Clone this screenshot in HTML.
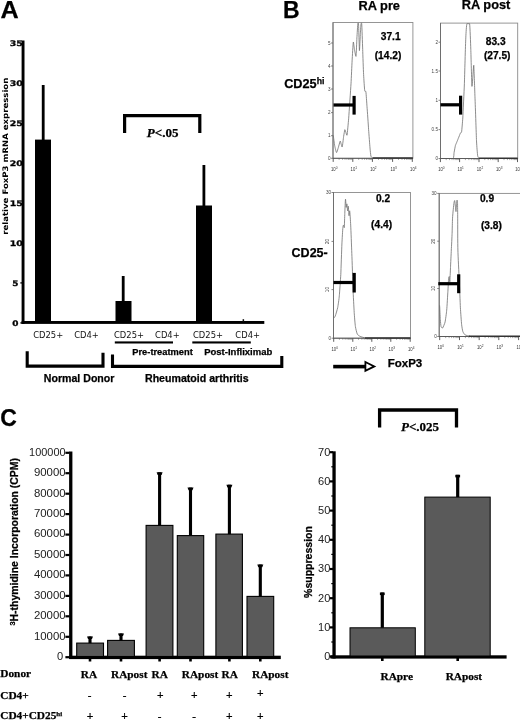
<!DOCTYPE html>
<html><head><meta charset="utf-8"><title>Figure</title>
<style>
html,body{margin:0;padding:0;background:#fff;}
svg{display:block;}
text{white-space:pre;}
</style></head><body>
<svg width="520" height="720" viewBox="0 0 520 720">
<rect x="0" y="0" width="520" height="720" fill="#fff"/>
<text x="0.6" y="17.5" font-family='"Liberation Sans", sans-serif' font-size="23" font-weight="bold" font-style="normal" text-anchor="start" fill="#000"  textLength="18.2" lengthAdjust="spacingAndGlyphs" stroke="#000" stroke-width="0.25">A</text>
<text x="283" y="18.1" font-family='"Liberation Sans", sans-serif' font-size="23" font-weight="bold" font-style="normal" text-anchor="start" fill="#000"  stroke="#000" stroke-width="0.25">B</text>
<text x="0.3" y="425.9" font-family='"Liberation Sans", sans-serif' font-size="23" font-weight="bold" font-style="normal" text-anchor="start" fill="#000"  stroke="#000" stroke-width="0.25">C</text>
<rect x="21.6" y="40.5" width="2.9" height="283.5" fill="#000" />
<rect x="21.6" y="321.0" width="242.7" height="2.9" fill="#000" />
<text x="12.3" y="325.9" font-family='"DejaVu Sans", "Liberation Sans", sans-serif' font-size="7.7" font-weight="bold" font-style="normal" text-anchor="start" fill="#000" stroke="#000" stroke-width="0.3" textLength="6.2" lengthAdjust="spacingAndGlyphs">0</text>
<rect x="20.4" y="322.2" width="1.5" height="1.4" fill="#000" />
<text x="12.3" y="285.9" font-family='"DejaVu Sans", "Liberation Sans", sans-serif' font-size="7.7" font-weight="bold" font-style="normal" text-anchor="start" fill="#000" stroke="#000" stroke-width="0.3" textLength="6.2" lengthAdjust="spacingAndGlyphs">5</text>
<rect x="20.4" y="282.2" width="1.5" height="1.4" fill="#000" />
<text x="9.8" y="245.9" font-family='"DejaVu Sans", "Liberation Sans", sans-serif' font-size="7.7" font-weight="bold" font-style="normal" text-anchor="start" fill="#000" stroke="#000" stroke-width="0.3" textLength="13.1" lengthAdjust="spacingAndGlyphs">10</text>
<text x="9.8" y="205.9" font-family='"DejaVu Sans", "Liberation Sans", sans-serif' font-size="7.7" font-weight="bold" font-style="normal" text-anchor="start" fill="#000" stroke="#000" stroke-width="0.3" textLength="13.1" lengthAdjust="spacingAndGlyphs">15</text>
<text x="9.8" y="165.9" font-family='"DejaVu Sans", "Liberation Sans", sans-serif' font-size="7.7" font-weight="bold" font-style="normal" text-anchor="start" fill="#000" stroke="#000" stroke-width="0.3" textLength="13.1" lengthAdjust="spacingAndGlyphs">20</text>
<text x="9.8" y="125.9" font-family='"DejaVu Sans", "Liberation Sans", sans-serif' font-size="7.7" font-weight="bold" font-style="normal" text-anchor="start" fill="#000" stroke="#000" stroke-width="0.3" textLength="13.1" lengthAdjust="spacingAndGlyphs">25</text>
<text x="9.8" y="85.9" font-family='"DejaVu Sans", "Liberation Sans", sans-serif' font-size="7.7" font-weight="bold" font-style="normal" text-anchor="start" fill="#000" stroke="#000" stroke-width="0.3" textLength="13.1" lengthAdjust="spacingAndGlyphs">30</text>
<text x="9.8" y="45.9" font-family='"DejaVu Sans", "Liberation Sans", sans-serif' font-size="7.7" font-weight="bold" font-style="normal" text-anchor="start" fill="#000" stroke="#000" stroke-width="0.3" textLength="13.1" lengthAdjust="spacingAndGlyphs">35</text>
<rect x="35" y="139.6" width="16" height="182.4" fill="#000" />
<rect x="41.800000000000004" y="85" width="2.8" height="55.599999999999994" fill="#000" />
<rect x="115.5" y="301" width="16.0" height="21" fill="#000" />
<rect x="121.8" y="276" width="2.8" height="26" fill="#000" />
<rect x="196" y="205.5" width="16" height="116.5" fill="#000" />
<rect x="202.5" y="165" width="2.8" height="41.5" fill="#000" />
<rect x="242.6" y="319.2" width="1.5" height="2.5" fill="#111" />
<text x="48.2" y="337.5" font-family='"DejaVu Sans", "Liberation Sans", sans-serif' font-size="8.4" font-weight="normal" font-style="normal" text-anchor="middle" fill="#111" >CD25+</text>
<text x="86.5" y="337.5" font-family='"DejaVu Sans", "Liberation Sans", sans-serif' font-size="8.4" font-weight="normal" font-style="normal" text-anchor="middle" fill="#111" >CD4+</text>
<text x="129" y="337.5" font-family='"DejaVu Sans", "Liberation Sans", sans-serif' font-size="8.4" font-weight="normal" font-style="normal" text-anchor="middle" fill="#111" >CD25+</text>
<text x="167.4" y="337.5" font-family='"DejaVu Sans", "Liberation Sans", sans-serif' font-size="8.4" font-weight="normal" font-style="normal" text-anchor="middle" fill="#111" >CD4+</text>
<text x="208" y="337.5" font-family='"DejaVu Sans", "Liberation Sans", sans-serif' font-size="8.4" font-weight="normal" font-style="normal" text-anchor="middle" fill="#111" >CD25+</text>
<text x="247.7" y="337.5" font-family='"DejaVu Sans", "Liberation Sans", sans-serif' font-size="8.4" font-weight="normal" font-style="normal" text-anchor="middle" fill="#111" >CD4+</text>
<rect x="114.8" y="341.4" width="58.2" height="2.1" fill="#000" />
<rect x="192.3" y="341.4" width="58.5" height="2.1" fill="#000" />
<text x="132.3" y="355" font-family='"Liberation Sans", sans-serif' font-size="9.3" font-weight="bold" font-style="normal" text-anchor="start" fill="#000"  stroke="#000" stroke-width="0.25">Pre-treatment</text>
<text x="204.2" y="355" font-family='"Liberation Sans", sans-serif' font-size="9.5" font-weight="bold" font-style="normal" text-anchor="start" fill="#000"  stroke="#000" stroke-width="0.25">Post-Infliximab</text>
<path d="M27.2 351.3 V366.1 H103 V352.8" stroke="#000" stroke-width="3.1" fill="none" />
<path d="M112.5 354.4 V366.4 H281.8 V356" stroke="#000" stroke-width="3.1" fill="none" />
<text x="43.8" y="382.3" font-family='"Liberation Sans", sans-serif' font-size="10.6" font-weight="bold" font-style="normal" text-anchor="start" fill="#000"  stroke="#000" stroke-width="0.25">Normal Donor</text>
<text x="145" y="382.3" font-family='"Liberation Sans", sans-serif' font-size="10.6" font-weight="bold" font-style="normal" text-anchor="start" fill="#000"  stroke="#000" stroke-width="0.25">Rheumatoid arthritis</text>
<path d="M124.6 132.9 V115.7 H199.8 V132.9" stroke="#000" stroke-width="3.2" fill="none" />
<text x="162.6" y="137.2" font-family='"Liberation Serif", serif' font-size="13" font-weight="bold" font-style="normal" text-anchor="middle" fill="#000"  stroke="#000" stroke-width="0.25"><tspan font-style="italic">P</tspan>&lt;.05</text>
<text transform="translate(7.6 156.2) rotate(-90)" font-family='"DejaVu Sans", "Liberation Sans", sans-serif' font-size="7.6" font-weight="bold" text-anchor="middle" textLength="157" lengthAdjust="spacingAndGlyphs">relative FoxP3 mRNA expression</text>
<text x="358.5" y="10.3" font-family='"Liberation Sans", sans-serif' font-size="12.8" font-weight="bold" font-style="normal" text-anchor="start" fill="#000"  stroke="#000" stroke-width="0.25">RA pre</text>
<text x="461.8" y="9.0" font-family='"Liberation Sans", sans-serif' font-size="12.8" font-weight="bold" font-style="normal" text-anchor="start" fill="#000"  stroke="#000" stroke-width="0.25">RA post</text>
<text x="284.2" y="87.8" font-family='"Liberation Sans", sans-serif' font-size="12.7" font-weight="bold" font-style="normal" text-anchor="start" fill="#000"  stroke="#000" stroke-width="0.25">CD25<tspan font-size="8.7" dy="-3.6">hi</tspan></text>
<text x="291.6" y="257.4" font-family='"Liberation Sans", sans-serif' font-size="12.5" font-weight="bold" font-style="normal" text-anchor="start" fill="#000"  stroke="#000" stroke-width="0.25">CD25-</text>
<text x="387.7" y="367" font-family='"Liberation Sans", sans-serif' font-size="11.5" font-weight="bold" font-style="normal" text-anchor="start" fill="#000"  stroke="#000" stroke-width="0.25">FoxP3</text>
<rect x="333" y="22.5" width="79.89999999999998" height="135.8" fill="none" stroke="#8a8a8a" stroke-width="0.9"/>
<text x="330.5" y="44.6" font-family='"Liberation Sans", sans-serif' font-size="4.6" font-weight="normal" font-style="normal" text-anchor="end" fill="#444" >5</text>
<line x1="331" y1="43" x2="333" y2="43" stroke="#555" stroke-width="0.7" />
<text x="330.5" y="67.6" font-family='"Liberation Sans", sans-serif' font-size="4.6" font-weight="normal" font-style="normal" text-anchor="end" fill="#444" >4</text>
<line x1="331" y1="66" x2="333" y2="66" stroke="#555" stroke-width="0.7" />
<text x="330.5" y="90.6" font-family='"Liberation Sans", sans-serif' font-size="4.6" font-weight="normal" font-style="normal" text-anchor="end" fill="#444" >3</text>
<line x1="331" y1="89" x2="333" y2="89" stroke="#555" stroke-width="0.7" />
<text x="330.5" y="114.19999999999999" font-family='"Liberation Sans", sans-serif' font-size="4.6" font-weight="normal" font-style="normal" text-anchor="end" fill="#444" >2</text>
<line x1="331" y1="112.6" x2="333" y2="112.6" stroke="#555" stroke-width="0.7" />
<text x="330.5" y="137.29999999999998" font-family='"Liberation Sans", sans-serif' font-size="4.6" font-weight="normal" font-style="normal" text-anchor="end" fill="#444" >1</text>
<line x1="331" y1="135.7" x2="333" y2="135.7" stroke="#555" stroke-width="0.7" />
<text x="330.5" y="159.9" font-family='"Liberation Sans", sans-serif' font-size="4.6" font-weight="normal" font-style="normal" text-anchor="end" fill="#444" >0</text>
<line x1="331" y1="158.3" x2="333" y2="158.3" stroke="#555" stroke-width="0.7" />
<line x1="333" y1="22.5" x2="333" y2="158.3" stroke="#6a6a6a" stroke-width="0.9" />
<text x="334.2" y="170.9" font-family='"Liberation Sans", sans-serif' font-size="5" font-weight="normal" font-style="normal" text-anchor="middle" fill="#333"  textLength="6.4" lengthAdjust="spacingAndGlyphs">10<tspan font-size="3.8" dy="-2.3">0</tspan></text>
<line x1="333.2" y1="158.3" x2="333.2" y2="161.9" stroke="#333" stroke-width="0.8" />
<text x="353.8" y="170.9" font-family='"Liberation Sans", sans-serif' font-size="5" font-weight="normal" font-style="normal" text-anchor="middle" fill="#333"  textLength="6.4" lengthAdjust="spacingAndGlyphs">10<tspan font-size="3.8" dy="-2.3">1</tspan></text>
<line x1="352.8" y1="158.3" x2="352.8" y2="161.9" stroke="#333" stroke-width="0.8" />
<text x="373.4" y="170.9" font-family='"Liberation Sans", sans-serif' font-size="5" font-weight="normal" font-style="normal" text-anchor="middle" fill="#333"  textLength="6.4" lengthAdjust="spacingAndGlyphs">10<tspan font-size="3.8" dy="-2.3">2</tspan></text>
<line x1="372.4" y1="158.3" x2="372.4" y2="161.9" stroke="#333" stroke-width="0.8" />
<text x="393.6" y="170.9" font-family='"Liberation Sans", sans-serif' font-size="5" font-weight="normal" font-style="normal" text-anchor="middle" fill="#333"  textLength="6.4" lengthAdjust="spacingAndGlyphs">10<tspan font-size="3.8" dy="-2.3">3</tspan></text>
<line x1="392.6" y1="158.3" x2="392.6" y2="161.9" stroke="#333" stroke-width="0.8" />
<text x="413.3" y="170.9" font-family='"Liberation Sans", sans-serif' font-size="5" font-weight="normal" font-style="normal" text-anchor="middle" fill="#333"  textLength="6.4" lengthAdjust="spacingAndGlyphs">10<tspan font-size="3.8" dy="-2.3">4</tspan></text>
<line x1="412.3" y1="158.3" x2="412.3" y2="161.9" stroke="#333" stroke-width="0.8" />
<line x1="339.1" y1="158.3" x2="339.1" y2="159.9" stroke="#555" stroke-width="0.5" />
<line x1="342.6" y1="158.3" x2="342.6" y2="159.9" stroke="#555" stroke-width="0.5" />
<line x1="345.0" y1="158.3" x2="345.0" y2="159.9" stroke="#555" stroke-width="0.5" />
<line x1="346.9" y1="158.3" x2="346.9" y2="159.9" stroke="#555" stroke-width="0.5" />
<line x1="348.5" y1="158.3" x2="348.5" y2="159.9" stroke="#555" stroke-width="0.5" />
<line x1="349.8" y1="158.3" x2="349.8" y2="159.9" stroke="#555" stroke-width="0.5" />
<line x1="350.9" y1="158.3" x2="350.9" y2="159.9" stroke="#555" stroke-width="0.5" />
<line x1="351.9" y1="158.3" x2="351.9" y2="159.9" stroke="#555" stroke-width="0.5" />
<line x1="358.7" y1="158.3" x2="358.7" y2="159.9" stroke="#555" stroke-width="0.5" />
<line x1="362.2" y1="158.3" x2="362.2" y2="159.9" stroke="#555" stroke-width="0.5" />
<line x1="364.6" y1="158.3" x2="364.6" y2="159.9" stroke="#555" stroke-width="0.5" />
<line x1="366.5" y1="158.3" x2="366.5" y2="159.9" stroke="#555" stroke-width="0.5" />
<line x1="368.1" y1="158.3" x2="368.1" y2="159.9" stroke="#555" stroke-width="0.5" />
<line x1="369.4" y1="158.3" x2="369.4" y2="159.9" stroke="#555" stroke-width="0.5" />
<line x1="370.5" y1="158.3" x2="370.5" y2="159.9" stroke="#555" stroke-width="0.5" />
<line x1="371.5" y1="158.3" x2="371.5" y2="159.9" stroke="#555" stroke-width="0.5" />
<line x1="378.5" y1="158.3" x2="378.5" y2="159.9" stroke="#555" stroke-width="0.5" />
<line x1="382.0" y1="158.3" x2="382.0" y2="159.9" stroke="#555" stroke-width="0.5" />
<line x1="384.6" y1="158.3" x2="384.6" y2="159.9" stroke="#555" stroke-width="0.5" />
<line x1="386.5" y1="158.3" x2="386.5" y2="159.9" stroke="#555" stroke-width="0.5" />
<line x1="388.1" y1="158.3" x2="388.1" y2="159.9" stroke="#555" stroke-width="0.5" />
<line x1="389.5" y1="158.3" x2="389.5" y2="159.9" stroke="#555" stroke-width="0.5" />
<line x1="390.6" y1="158.3" x2="390.6" y2="159.9" stroke="#555" stroke-width="0.5" />
<line x1="391.7" y1="158.3" x2="391.7" y2="159.9" stroke="#555" stroke-width="0.5" />
<line x1="398.5" y1="158.3" x2="398.5" y2="159.9" stroke="#555" stroke-width="0.5" />
<line x1="402.0" y1="158.3" x2="402.0" y2="159.9" stroke="#555" stroke-width="0.5" />
<line x1="404.5" y1="158.3" x2="404.5" y2="159.9" stroke="#555" stroke-width="0.5" />
<line x1="406.4" y1="158.3" x2="406.4" y2="159.9" stroke="#555" stroke-width="0.5" />
<line x1="407.9" y1="158.3" x2="407.9" y2="159.9" stroke="#555" stroke-width="0.5" />
<line x1="409.2" y1="158.3" x2="409.2" y2="159.9" stroke="#555" stroke-width="0.5" />
<line x1="410.4" y1="158.3" x2="410.4" y2="159.9" stroke="#555" stroke-width="0.5" />
<line x1="411.4" y1="158.3" x2="411.4" y2="159.9" stroke="#555" stroke-width="0.5" />
<path d="M333.3 135.4 C333.4 136.3 334.4 144.2 334.7 145.7 C335.0 147.3 336.2 152.4 336.5 152.6 C336.8 152.8 338.0 148.6 338.3 147.6 C338.7 146.5 339.9 141.4 340.2 141.1 C340.5 140.9 341.1 144.1 341.3 144.6 C341.5 145.1 342.0 147.6 342.2 146.9 C342.5 146.2 343.4 138.1 343.6 136.6 C343.9 135.0 344.6 130.1 344.8 129.7 C345.0 129.3 345.7 132.0 345.9 132.4 C346.1 132.9 346.8 136.2 347.1 135.0 C347.3 133.7 348.3 122.8 348.7 118.2 C349.0 113.6 350.7 89.0 351.0 83.8 C351.3 78.6 351.9 64.6 352.1 60.9 C352.3 57.1 353.1 43.1 353.3 42.1 C353.5 41.0 354.2 48.1 354.4 49.4 C354.7 50.7 355.8 57.3 356.0 56.3 C356.2 55.3 356.8 40.9 356.9 37.9 C357.1 35.0 357.7 24.6 357.8 23.3 C358.0 23.0 358.4 23.0 358.5 23.3 C358.7 25.7 359.3 49.6 359.4 50.6 C359.6 51.5 360.2 35.8 360.4 33.3 C360.5 30.9 360.9 24.2 361.1 23.3 C361.2 23.0 361.6 23.0 361.7 23.3 C361.9 25.6 362.5 44.8 362.7 49.4 C362.8 54.0 363.4 70.9 363.6 74.6 C363.8 78.3 364.5 89.1 364.7 90.7 C364.9 92.2 365.7 90.4 365.9 91.8 C366.1 93.3 366.8 103.3 367.0 106.7 C367.3 110.1 368.4 126.0 368.6 129.7 C368.9 133.4 369.8 145.7 370.0 148.0 C370.2 150.4 370.7 155.1 370.9 156.1 C371.2 157.0 372.6 158.1 372.8 158.3" fill="none" stroke="#6e6e6e" stroke-width="0.8" stroke-linejoin="round"/>
<line x1="333" y1="158.3" x2="412.9" y2="158.3" stroke="#555" stroke-width="0.9" />
<line x1="372.8" y1="158.0" x2="412.9" y2="158.0" stroke="#333" stroke-width="1.5" />
<text x="390.7" y="40.3" font-family='"Liberation Sans", sans-serif' font-size="10.2" font-weight="bold" font-style="normal" text-anchor="middle" fill="#000"  stroke="#000" stroke-width="0.25">37.1</text>
<text x="388" y="58.5" font-family='"Liberation Sans", sans-serif' font-size="10.2" font-weight="bold" font-style="normal" text-anchor="middle" fill="#000"  stroke="#000" stroke-width="0.25">(14.2)</text>
<rect x="333.5" y="103.4" width="20.69999999999999" height="3.2" fill="#000" />
<rect x="352.5" y="95.9" width="3.2" height="18.69999999999999" fill="#000" />
<rect x="440.5" y="23.1" width="77.20000000000005" height="135.4" fill="none" stroke="#8a8a8a" stroke-width="0.9"/>
<text x="438.0" y="43.800000000000004" font-family='"Liberation Sans", sans-serif' font-size="4.6" font-weight="normal" font-style="normal" text-anchor="end" fill="#444" >2</text>
<line x1="438.5" y1="42.2" x2="440.5" y2="42.2" stroke="#555" stroke-width="0.7" />
<text x="438.0" y="72.6" font-family='"Liberation Sans", sans-serif' font-size="4.6" font-weight="normal" font-style="normal" text-anchor="end" fill="#444" >1.5</text>
<line x1="438.5" y1="71" x2="440.5" y2="71" stroke="#555" stroke-width="0.7" />
<text x="438.0" y="101.89999999999999" font-family='"Liberation Sans", sans-serif' font-size="4.6" font-weight="normal" font-style="normal" text-anchor="end" fill="#444" >1</text>
<line x1="438.5" y1="100.3" x2="440.5" y2="100.3" stroke="#555" stroke-width="0.7" />
<text x="438.0" y="131.2" font-family='"Liberation Sans", sans-serif' font-size="4.6" font-weight="normal" font-style="normal" text-anchor="end" fill="#444" >0.5</text>
<line x1="438.5" y1="129.6" x2="440.5" y2="129.6" stroke="#555" stroke-width="0.7" />
<text x="438.0" y="160.1" font-family='"Liberation Sans", sans-serif' font-size="4.6" font-weight="normal" font-style="normal" text-anchor="end" fill="#444" >0</text>
<line x1="438.5" y1="158.5" x2="440.5" y2="158.5" stroke="#555" stroke-width="0.7" />
<line x1="440.5" y1="23.1" x2="440.5" y2="158.5" stroke="#6a6a6a" stroke-width="0.9" />
<text x="441.4" y="171.1" font-family='"Liberation Sans", sans-serif' font-size="5" font-weight="normal" font-style="normal" text-anchor="middle" fill="#333"  textLength="6.4" lengthAdjust="spacingAndGlyphs">10<tspan font-size="3.8" dy="-2.3">0</tspan></text>
<line x1="440.4" y1="158.5" x2="440.4" y2="162.1" stroke="#333" stroke-width="0.8" />
<text x="460.6" y="171.1" font-family='"Liberation Sans", sans-serif' font-size="5" font-weight="normal" font-style="normal" text-anchor="middle" fill="#333"  textLength="6.4" lengthAdjust="spacingAndGlyphs">10<tspan font-size="3.8" dy="-2.3">1</tspan></text>
<line x1="459.6" y1="158.5" x2="459.6" y2="162.1" stroke="#333" stroke-width="0.8" />
<text x="480" y="171.1" font-family='"Liberation Sans", sans-serif' font-size="5" font-weight="normal" font-style="normal" text-anchor="middle" fill="#333"  textLength="6.4" lengthAdjust="spacingAndGlyphs">10<tspan font-size="3.8" dy="-2.3">2</tspan></text>
<line x1="479" y1="158.5" x2="479" y2="162.1" stroke="#333" stroke-width="0.8" />
<text x="499.2" y="171.1" font-family='"Liberation Sans", sans-serif' font-size="5" font-weight="normal" font-style="normal" text-anchor="middle" fill="#333"  textLength="6.4" lengthAdjust="spacingAndGlyphs">10<tspan font-size="3.8" dy="-2.3">3</tspan></text>
<line x1="498.2" y1="158.5" x2="498.2" y2="162.1" stroke="#333" stroke-width="0.8" />
<text x="518.5" y="171.1" font-family='"Liberation Sans", sans-serif' font-size="5" font-weight="normal" font-style="normal" text-anchor="middle" fill="#333"  textLength="6.4" lengthAdjust="spacingAndGlyphs">10<tspan font-size="3.8" dy="-2.3">4</tspan></text>
<line x1="517.5" y1="158.5" x2="517.5" y2="162.1" stroke="#333" stroke-width="0.8" />
<line x1="446.2" y1="158.5" x2="446.2" y2="160.1" stroke="#555" stroke-width="0.5" />
<line x1="449.6" y1="158.5" x2="449.6" y2="160.1" stroke="#555" stroke-width="0.5" />
<line x1="452.0" y1="158.5" x2="452.0" y2="160.1" stroke="#555" stroke-width="0.5" />
<line x1="453.8" y1="158.5" x2="453.8" y2="160.1" stroke="#555" stroke-width="0.5" />
<line x1="455.3" y1="158.5" x2="455.3" y2="160.1" stroke="#555" stroke-width="0.5" />
<line x1="456.6" y1="158.5" x2="456.6" y2="160.1" stroke="#555" stroke-width="0.5" />
<line x1="457.7" y1="158.5" x2="457.7" y2="160.1" stroke="#555" stroke-width="0.5" />
<line x1="458.7" y1="158.5" x2="458.7" y2="160.1" stroke="#555" stroke-width="0.5" />
<line x1="465.4" y1="158.5" x2="465.4" y2="160.1" stroke="#555" stroke-width="0.5" />
<line x1="468.9" y1="158.5" x2="468.9" y2="160.1" stroke="#555" stroke-width="0.5" />
<line x1="471.3" y1="158.5" x2="471.3" y2="160.1" stroke="#555" stroke-width="0.5" />
<line x1="473.2" y1="158.5" x2="473.2" y2="160.1" stroke="#555" stroke-width="0.5" />
<line x1="474.7" y1="158.5" x2="474.7" y2="160.1" stroke="#555" stroke-width="0.5" />
<line x1="476.0" y1="158.5" x2="476.0" y2="160.1" stroke="#555" stroke-width="0.5" />
<line x1="477.1" y1="158.5" x2="477.1" y2="160.1" stroke="#555" stroke-width="0.5" />
<line x1="478.1" y1="158.5" x2="478.1" y2="160.1" stroke="#555" stroke-width="0.5" />
<line x1="484.8" y1="158.5" x2="484.8" y2="160.1" stroke="#555" stroke-width="0.5" />
<line x1="488.2" y1="158.5" x2="488.2" y2="160.1" stroke="#555" stroke-width="0.5" />
<line x1="490.6" y1="158.5" x2="490.6" y2="160.1" stroke="#555" stroke-width="0.5" />
<line x1="492.4" y1="158.5" x2="492.4" y2="160.1" stroke="#555" stroke-width="0.5" />
<line x1="493.9" y1="158.5" x2="493.9" y2="160.1" stroke="#555" stroke-width="0.5" />
<line x1="495.2" y1="158.5" x2="495.2" y2="160.1" stroke="#555" stroke-width="0.5" />
<line x1="496.3" y1="158.5" x2="496.3" y2="160.1" stroke="#555" stroke-width="0.5" />
<line x1="497.3" y1="158.5" x2="497.3" y2="160.1" stroke="#555" stroke-width="0.5" />
<line x1="504.0" y1="158.5" x2="504.0" y2="160.1" stroke="#555" stroke-width="0.5" />
<line x1="507.4" y1="158.5" x2="507.4" y2="160.1" stroke="#555" stroke-width="0.5" />
<line x1="509.8" y1="158.5" x2="509.8" y2="160.1" stroke="#555" stroke-width="0.5" />
<line x1="511.7" y1="158.5" x2="511.7" y2="160.1" stroke="#555" stroke-width="0.5" />
<line x1="513.2" y1="158.5" x2="513.2" y2="160.1" stroke="#555" stroke-width="0.5" />
<line x1="514.5" y1="158.5" x2="514.5" y2="160.1" stroke="#555" stroke-width="0.5" />
<line x1="515.6" y1="158.5" x2="515.6" y2="160.1" stroke="#555" stroke-width="0.5" />
<line x1="516.6" y1="158.5" x2="516.6" y2="160.1" stroke="#555" stroke-width="0.5" />
<path d="M440.6 158.5 C441.7 158.5 451.7 158.5 452.9 158.5 C454.1 158.0 453.8 153.5 454.1 152.4 C454.3 151.2 455.2 146.4 455.4 145.5 C455.7 144.6 456.6 142.7 456.8 142.1 C457.1 141.4 458.0 139.2 458.2 138.6 C458.4 138.1 459.1 136.4 459.3 135.9 C459.5 135.4 460.3 133.3 460.5 132.9 C460.7 132.5 461.4 133.1 461.6 131.8 C461.8 130.4 462.5 122.3 462.8 118.0 C463.0 113.7 464.1 90.9 464.4 83.7 C464.6 76.5 465.5 43.3 465.8 37.9 C466.0 32.5 466.5 25.0 466.9 23.7 C467.2 23.6 469.3 23.6 469.6 23.7 C470.0 26.0 470.6 43.7 470.8 49.3 C471.0 54.9 471.7 83.5 471.9 86.0 C472.1 88.4 472.7 78.7 472.8 76.8 C473.0 75.0 473.6 63.7 473.8 65.4 C473.9 67.0 474.7 88.3 474.9 95.1 C475.2 101.9 476.3 135.5 476.5 140.9 C476.8 146.4 477.4 154.2 477.7 155.8 C477.9 157.4 479.1 158.3 479.3 158.5" fill="none" stroke="#6e6e6e" stroke-width="0.8" stroke-linejoin="round"/>
<line x1="440.5" y1="158.5" x2="517.7" y2="158.5" stroke="#555" stroke-width="0.9" />
<line x1="479" y1="158.2" x2="517.7" y2="158.2" stroke="#333" stroke-width="1.5" />
<text x="495.7" y="45.2" font-family='"Liberation Sans", sans-serif' font-size="10.2" font-weight="bold" font-style="normal" text-anchor="middle" fill="#000"  stroke="#000" stroke-width="0.25">83.3</text>
<text x="497.2" y="59" font-family='"Liberation Sans", sans-serif' font-size="10.2" font-weight="bold" font-style="normal" text-anchor="middle" fill="#000"  stroke="#000" stroke-width="0.25">(27.5)</text>
<rect x="440.5" y="103.2" width="20.19999999999999" height="3.2" fill="#000" />
<rect x="459.0" y="95.7" width="3.2" height="18.89999999999999" fill="#000" />
<rect x="333.5" y="192.5" width="77.0" height="145.7" fill="none" stroke="#8a8a8a" stroke-width="0.9"/>
<text x="331.0" y="194.1" font-family='"Liberation Sans", sans-serif' font-size="4.6" font-weight="normal" font-style="normal" text-anchor="end" fill="#444" >30</text>
<line x1="331.5" y1="192.5" x2="333.5" y2="192.5" stroke="#555" stroke-width="0.7" />
<text transform="translate(329.1 241.4) rotate(-90)" font-family='"Liberation Sans", sans-serif' font-size="4.6" text-anchor="middle" fill="#333">20</text>
<line x1="331.5" y1="241.4" x2="333.5" y2="241.4" stroke="#555" stroke-width="0.7" />
<text transform="translate(329.1 289.6) rotate(-90)" font-family='"Liberation Sans", sans-serif' font-size="4.6" text-anchor="middle" fill="#333">10</text>
<line x1="331.5" y1="289.6" x2="333.5" y2="289.6" stroke="#555" stroke-width="0.7" />
<text x="331.0" y="339.8" font-family='"Liberation Sans", sans-serif' font-size="4.6" font-weight="normal" font-style="normal" text-anchor="end" fill="#444" >0</text>
<line x1="331.5" y1="338.2" x2="333.5" y2="338.2" stroke="#555" stroke-width="0.7" />
<line x1="333.5" y1="192.5" x2="333.5" y2="338.2" stroke="#6a6a6a" stroke-width="0.9" />
<text x="334.7" y="350.8" font-family='"Liberation Sans", sans-serif' font-size="5" font-weight="normal" font-style="normal" text-anchor="middle" fill="#333"  textLength="6.4" lengthAdjust="spacingAndGlyphs">10<tspan font-size="3.8" dy="-2.3">0</tspan></text>
<line x1="333.7" y1="338.2" x2="333.7" y2="341.8" stroke="#333" stroke-width="0.8" />
<text x="353.8" y="350.8" font-family='"Liberation Sans", sans-serif' font-size="5" font-weight="normal" font-style="normal" text-anchor="middle" fill="#333"  textLength="6.4" lengthAdjust="spacingAndGlyphs">10<tspan font-size="3.8" dy="-2.3">1</tspan></text>
<line x1="352.8" y1="338.2" x2="352.8" y2="341.8" stroke="#333" stroke-width="0.8" />
<text x="372.8" y="350.8" font-family='"Liberation Sans", sans-serif' font-size="5" font-weight="normal" font-style="normal" text-anchor="middle" fill="#333"  textLength="6.4" lengthAdjust="spacingAndGlyphs">10<tspan font-size="3.8" dy="-2.3">2</tspan></text>
<line x1="371.8" y1="338.2" x2="371.8" y2="341.8" stroke="#333" stroke-width="0.8" />
<text x="391.8" y="350.8" font-family='"Liberation Sans", sans-serif' font-size="5" font-weight="normal" font-style="normal" text-anchor="middle" fill="#333"  textLength="6.4" lengthAdjust="spacingAndGlyphs">10<tspan font-size="3.8" dy="-2.3">3</tspan></text>
<line x1="390.8" y1="338.2" x2="390.8" y2="341.8" stroke="#333" stroke-width="0.8" />
<text x="411.2" y="350.8" font-family='"Liberation Sans", sans-serif' font-size="5" font-weight="normal" font-style="normal" text-anchor="middle" fill="#333"  textLength="6.4" lengthAdjust="spacingAndGlyphs">10<tspan font-size="3.8" dy="-2.3">4</tspan></text>
<line x1="410.2" y1="338.2" x2="410.2" y2="341.8" stroke="#333" stroke-width="0.8" />
<line x1="339.4" y1="338.2" x2="339.4" y2="339.8" stroke="#555" stroke-width="0.5" />
<line x1="342.8" y1="338.2" x2="342.8" y2="339.8" stroke="#555" stroke-width="0.5" />
<line x1="345.2" y1="338.2" x2="345.2" y2="339.8" stroke="#555" stroke-width="0.5" />
<line x1="347.1" y1="338.2" x2="347.1" y2="339.8" stroke="#555" stroke-width="0.5" />
<line x1="348.6" y1="338.2" x2="348.6" y2="339.8" stroke="#555" stroke-width="0.5" />
<line x1="349.8" y1="338.2" x2="349.8" y2="339.8" stroke="#555" stroke-width="0.5" />
<line x1="350.9" y1="338.2" x2="350.9" y2="339.8" stroke="#555" stroke-width="0.5" />
<line x1="351.9" y1="338.2" x2="351.9" y2="339.8" stroke="#555" stroke-width="0.5" />
<line x1="358.5" y1="338.2" x2="358.5" y2="339.8" stroke="#555" stroke-width="0.5" />
<line x1="361.9" y1="338.2" x2="361.9" y2="339.8" stroke="#555" stroke-width="0.5" />
<line x1="364.2" y1="338.2" x2="364.2" y2="339.8" stroke="#555" stroke-width="0.5" />
<line x1="366.1" y1="338.2" x2="366.1" y2="339.8" stroke="#555" stroke-width="0.5" />
<line x1="367.6" y1="338.2" x2="367.6" y2="339.8" stroke="#555" stroke-width="0.5" />
<line x1="368.9" y1="338.2" x2="368.9" y2="339.8" stroke="#555" stroke-width="0.5" />
<line x1="370.0" y1="338.2" x2="370.0" y2="339.8" stroke="#555" stroke-width="0.5" />
<line x1="370.9" y1="338.2" x2="370.9" y2="339.8" stroke="#555" stroke-width="0.5" />
<line x1="377.5" y1="338.2" x2="377.5" y2="339.8" stroke="#555" stroke-width="0.5" />
<line x1="380.9" y1="338.2" x2="380.9" y2="339.8" stroke="#555" stroke-width="0.5" />
<line x1="383.2" y1="338.2" x2="383.2" y2="339.8" stroke="#555" stroke-width="0.5" />
<line x1="385.1" y1="338.2" x2="385.1" y2="339.8" stroke="#555" stroke-width="0.5" />
<line x1="386.6" y1="338.2" x2="386.6" y2="339.8" stroke="#555" stroke-width="0.5" />
<line x1="387.9" y1="338.2" x2="387.9" y2="339.8" stroke="#555" stroke-width="0.5" />
<line x1="389.0" y1="338.2" x2="389.0" y2="339.8" stroke="#555" stroke-width="0.5" />
<line x1="389.9" y1="338.2" x2="389.9" y2="339.8" stroke="#555" stroke-width="0.5" />
<line x1="396.6" y1="338.2" x2="396.6" y2="339.8" stroke="#555" stroke-width="0.5" />
<line x1="400.1" y1="338.2" x2="400.1" y2="339.8" stroke="#555" stroke-width="0.5" />
<line x1="402.5" y1="338.2" x2="402.5" y2="339.8" stroke="#555" stroke-width="0.5" />
<line x1="404.4" y1="338.2" x2="404.4" y2="339.8" stroke="#555" stroke-width="0.5" />
<line x1="405.9" y1="338.2" x2="405.9" y2="339.8" stroke="#555" stroke-width="0.5" />
<line x1="407.2" y1="338.2" x2="407.2" y2="339.8" stroke="#555" stroke-width="0.5" />
<line x1="408.3" y1="338.2" x2="408.3" y2="339.8" stroke="#555" stroke-width="0.5" />
<line x1="409.3" y1="338.2" x2="409.3" y2="339.8" stroke="#555" stroke-width="0.5" />
<path d="M333.7 318.3 C333.8 318.0 335.0 316.9 335.3 315.9 C335.7 314.9 337.3 309.4 337.7 307.6 C338.0 305.8 339.1 298.8 339.3 295.8 C339.6 292.9 340.5 279.3 340.8 274.6 C341.0 270.0 341.7 248.2 341.9 244.0 C342.1 239.7 342.7 229.2 342.9 227.5 C343.0 225.8 343.5 225.1 343.6 225.1 C343.7 225.1 344.2 228.5 344.3 227.5 C344.4 226.4 344.7 215.8 344.8 213.3 C344.9 210.8 345.3 199.7 345.5 199.2 C345.6 198.6 346.1 207.0 346.2 207.4 C346.3 207.8 346.8 203.5 346.9 203.9 C347.0 204.2 347.5 210.7 347.6 210.9 C347.7 211.2 348.2 205.8 348.3 206.2 C348.4 206.7 348.9 215.2 349.0 215.7 C349.1 216.1 349.6 210.1 349.7 210.9 C349.9 211.8 350.5 221.3 350.7 225.1 C350.9 228.9 351.6 247.7 351.8 253.4 C352.1 259.1 352.8 283.5 353.0 288.8 C353.2 294.1 354.0 309.0 354.2 312.4 C354.4 315.8 355.1 324.6 355.4 326.5 C355.7 328.5 356.8 333.2 357.3 334.1 C357.7 334.9 359.4 336.1 360.1 336.4 C360.8 336.8 364.4 337.7 364.8 337.8" fill="none" stroke="#6e6e6e" stroke-width="0.8" stroke-linejoin="round"/>
<line x1="333.5" y1="338.2" x2="410.5" y2="338.2" stroke="#555" stroke-width="0.9" />
<line x1="365" y1="337.9" x2="410.5" y2="337.9" stroke="#333" stroke-width="1.5" />
<text x="383" y="202.4" font-family='"Liberation Sans", sans-serif' font-size="10.2" font-weight="bold" font-style="normal" text-anchor="middle" fill="#000"  stroke="#000" stroke-width="0.25">0.2</text>
<text x="381.6" y="227.8" font-family='"Liberation Sans", sans-serif' font-size="10.2" font-weight="bold" font-style="normal" text-anchor="middle" fill="#000"  stroke="#000" stroke-width="0.25">(4.4)</text>
<rect x="333.5" y="280.9" width="20.80000000000001" height="3.2" fill="#000" />
<rect x="352.6" y="272.9" width="3.2" height="19.600000000000023" fill="#000" />
<rect x="439.2" y="193.4" width="82.80000000000001" height="143.1" fill="none" stroke="#8a8a8a" stroke-width="0.9"/>
<text x="436.7" y="195.0" font-family='"Liberation Sans", sans-serif' font-size="4.6" font-weight="normal" font-style="normal" text-anchor="end" fill="#444" >30</text>
<line x1="437.2" y1="193.4" x2="439.2" y2="193.4" stroke="#555" stroke-width="0.7" />
<text transform="translate(434.8 241.2) rotate(-90)" font-family='"Liberation Sans", sans-serif' font-size="4.6" text-anchor="middle" fill="#333">20</text>
<line x1="437.2" y1="241.2" x2="439.2" y2="241.2" stroke="#555" stroke-width="0.7" />
<text transform="translate(434.8 288.5) rotate(-90)" font-family='"Liberation Sans", sans-serif' font-size="4.6" text-anchor="middle" fill="#333">10</text>
<line x1="437.2" y1="288.5" x2="439.2" y2="288.5" stroke="#555" stroke-width="0.7" />
<text x="436.7" y="338.1" font-family='"Liberation Sans", sans-serif' font-size="4.6" font-weight="normal" font-style="normal" text-anchor="end" fill="#444" >0</text>
<line x1="437.2" y1="336.5" x2="439.2" y2="336.5" stroke="#555" stroke-width="0.7" />
<line x1="439.2" y1="193.4" x2="439.2" y2="336.5" stroke="#6a6a6a" stroke-width="0.9" />
<text x="440.7" y="349.1" font-family='"Liberation Sans", sans-serif' font-size="5" font-weight="normal" font-style="normal" text-anchor="middle" fill="#333"  textLength="6.4" lengthAdjust="spacingAndGlyphs">10<tspan font-size="3.8" dy="-2.3">0</tspan></text>
<line x1="439.7" y1="336.5" x2="439.7" y2="340.1" stroke="#333" stroke-width="0.8" />
<text x="460.5" y="349.1" font-family='"Liberation Sans", sans-serif' font-size="5" font-weight="normal" font-style="normal" text-anchor="middle" fill="#333"  textLength="6.4" lengthAdjust="spacingAndGlyphs">10<tspan font-size="3.8" dy="-2.3">1</tspan></text>
<line x1="459.5" y1="336.5" x2="459.5" y2="340.1" stroke="#333" stroke-width="0.8" />
<text x="480.2" y="349.1" font-family='"Liberation Sans", sans-serif' font-size="5" font-weight="normal" font-style="normal" text-anchor="middle" fill="#333"  textLength="6.4" lengthAdjust="spacingAndGlyphs">10<tspan font-size="3.8" dy="-2.3">2</tspan></text>
<line x1="479.2" y1="336.5" x2="479.2" y2="340.1" stroke="#333" stroke-width="0.8" />
<text x="499.8" y="349.1" font-family='"Liberation Sans", sans-serif' font-size="5" font-weight="normal" font-style="normal" text-anchor="middle" fill="#333"  textLength="6.4" lengthAdjust="spacingAndGlyphs">10<tspan font-size="3.8" dy="-2.3">3</tspan></text>
<line x1="498.8" y1="336.5" x2="498.8" y2="340.1" stroke="#333" stroke-width="0.8" />
<text x="519.6" y="349.1" font-family='"Liberation Sans", sans-serif' font-size="5" font-weight="normal" font-style="normal" text-anchor="middle" fill="#333"  textLength="6.4" lengthAdjust="spacingAndGlyphs">10<tspan font-size="3.8" dy="-2.3">4</tspan></text>
<line x1="518.6" y1="336.5" x2="518.6" y2="340.1" stroke="#333" stroke-width="0.8" />
<line x1="445.7" y1="336.5" x2="445.7" y2="338.1" stroke="#555" stroke-width="0.5" />
<line x1="449.1" y1="336.5" x2="449.1" y2="338.1" stroke="#555" stroke-width="0.5" />
<line x1="451.6" y1="336.5" x2="451.6" y2="338.1" stroke="#555" stroke-width="0.5" />
<line x1="453.5" y1="336.5" x2="453.5" y2="338.1" stroke="#555" stroke-width="0.5" />
<line x1="455.1" y1="336.5" x2="455.1" y2="338.1" stroke="#555" stroke-width="0.5" />
<line x1="456.4" y1="336.5" x2="456.4" y2="338.1" stroke="#555" stroke-width="0.5" />
<line x1="457.6" y1="336.5" x2="457.6" y2="338.1" stroke="#555" stroke-width="0.5" />
<line x1="458.6" y1="336.5" x2="458.6" y2="338.1" stroke="#555" stroke-width="0.5" />
<line x1="465.4" y1="336.5" x2="465.4" y2="338.1" stroke="#555" stroke-width="0.5" />
<line x1="468.9" y1="336.5" x2="468.9" y2="338.1" stroke="#555" stroke-width="0.5" />
<line x1="471.4" y1="336.5" x2="471.4" y2="338.1" stroke="#555" stroke-width="0.5" />
<line x1="473.3" y1="336.5" x2="473.3" y2="338.1" stroke="#555" stroke-width="0.5" />
<line x1="474.8" y1="336.5" x2="474.8" y2="338.1" stroke="#555" stroke-width="0.5" />
<line x1="476.1" y1="336.5" x2="476.1" y2="338.1" stroke="#555" stroke-width="0.5" />
<line x1="477.3" y1="336.5" x2="477.3" y2="338.1" stroke="#555" stroke-width="0.5" />
<line x1="478.3" y1="336.5" x2="478.3" y2="338.1" stroke="#555" stroke-width="0.5" />
<line x1="485.1" y1="336.5" x2="485.1" y2="338.1" stroke="#555" stroke-width="0.5" />
<line x1="488.6" y1="336.5" x2="488.6" y2="338.1" stroke="#555" stroke-width="0.5" />
<line x1="491.0" y1="336.5" x2="491.0" y2="338.1" stroke="#555" stroke-width="0.5" />
<line x1="492.9" y1="336.5" x2="492.9" y2="338.1" stroke="#555" stroke-width="0.5" />
<line x1="494.5" y1="336.5" x2="494.5" y2="338.1" stroke="#555" stroke-width="0.5" />
<line x1="495.8" y1="336.5" x2="495.8" y2="338.1" stroke="#555" stroke-width="0.5" />
<line x1="496.9" y1="336.5" x2="496.9" y2="338.1" stroke="#555" stroke-width="0.5" />
<line x1="497.9" y1="336.5" x2="497.9" y2="338.1" stroke="#555" stroke-width="0.5" />
<line x1="504.8" y1="336.5" x2="504.8" y2="338.1" stroke="#555" stroke-width="0.5" />
<line x1="508.2" y1="336.5" x2="508.2" y2="338.1" stroke="#555" stroke-width="0.5" />
<line x1="510.7" y1="336.5" x2="510.7" y2="338.1" stroke="#555" stroke-width="0.5" />
<line x1="512.6" y1="336.5" x2="512.6" y2="338.1" stroke="#555" stroke-width="0.5" />
<line x1="514.2" y1="336.5" x2="514.2" y2="338.1" stroke="#555" stroke-width="0.5" />
<line x1="515.5" y1="336.5" x2="515.5" y2="338.1" stroke="#555" stroke-width="0.5" />
<line x1="516.7" y1="336.5" x2="516.7" y2="338.1" stroke="#555" stroke-width="0.5" />
<line x1="517.7" y1="336.5" x2="517.7" y2="338.1" stroke="#555" stroke-width="0.5" />
<path d="M439.6 305.4 C439.7 306.7 440.2 317.7 440.3 319.6 C440.5 321.5 440.8 325.9 441.1 326.7 C441.3 327.4 442.3 328.3 442.7 327.9 C443.1 327.4 444.7 323.5 445.1 322.0 C445.4 320.4 446.5 312.9 446.7 310.1 C447.0 307.4 447.7 294.1 447.9 291.3 C448.1 288.4 448.5 279.6 448.6 278.3 C448.7 277.0 449.2 276.3 449.3 276.6 C449.4 276.9 449.7 282.6 449.8 281.8 C449.9 281.0 450.4 270.5 450.5 267.6 C450.6 264.8 451.2 253.1 451.3 250.0 C451.5 246.9 452.0 236.1 452.1 233.3 C452.2 230.5 452.4 221.0 452.5 218.8 C452.6 216.7 453.1 210.7 453.3 209.2 C453.4 207.8 453.9 203.3 454.0 202.5 C454.2 201.7 454.6 200.2 454.7 200.6 C454.8 200.9 455.3 205.4 455.4 206.3 C455.5 207.3 455.9 211.8 456.0 211.6 C456.1 211.5 456.4 205.5 456.5 204.4 C456.6 203.4 456.9 200.3 457.0 200.1 C457.1 199.9 457.4 200.8 457.5 202.5 C457.6 204.2 457.7 214.6 457.7 218.8 C457.7 223.1 457.7 244.5 457.9 250.0 C458.0 255.5 459.0 274.3 459.2 279.5 C459.5 284.7 460.2 303.7 460.4 307.8 C460.6 311.8 461.4 322.2 461.6 324.3 C461.8 326.4 462.5 330.4 462.8 331.4 C463.1 332.4 464.5 334.5 465.1 334.9 C465.8 335.4 469.4 336.0 469.9 336.1" fill="none" stroke="#6e6e6e" stroke-width="0.8" stroke-linejoin="round"/>
<line x1="439.2" y1="336.5" x2="520" y2="336.5" stroke="#555" stroke-width="0.9" />
<line x1="469" y1="336.2" x2="520" y2="336.2" stroke="#333" stroke-width="1.5" />
<text x="487" y="201.8" font-family='"Liberation Sans", sans-serif' font-size="10.2" font-weight="bold" font-style="normal" text-anchor="middle" fill="#000"  stroke="#000" stroke-width="0.25">0.9</text>
<text x="491.4" y="229.4" font-family='"Liberation Sans", sans-serif' font-size="10.2" font-weight="bold" font-style="normal" text-anchor="middle" fill="#000"  stroke="#000" stroke-width="0.25">(3.8)</text>
<rect x="438.3" y="282.09999999999997" width="20.5" height="3.2" fill="#000" />
<rect x="457.1" y="274.3" width="3.2" height="18.899999999999977" fill="#000" />
<rect x="333.2" y="364.8" width="32" height="3.6" fill="#000" />
<path d="M365.4 362 L374.3 366.4 L365.4 370.8 Z" stroke="#000" stroke-width="1.8" fill="#fff" />
<rect x="69.1" y="451.5" width="3.3" height="207.5" fill="#000" />
<rect x="69.3" y="655.7" width="211.5" height="3.4" fill="#000" />
<text x="63.2" y="660.0" font-family='"Liberation Sans", sans-serif' font-size="10.4" font-weight="normal" font-style="normal" text-anchor="end" fill="#222"  textLength="6.2" lengthAdjust="spacingAndGlyphs">0</text>
<rect x="65.4" y="656.1" width="4.2" height="2.2" fill="#000" />
<text x="65.6" y="639.6" font-family='"Liberation Sans", sans-serif' font-size="10.4" font-weight="normal" font-style="normal" text-anchor="end" fill="#222"  textLength="31.7" lengthAdjust="spacingAndGlyphs">10000</text>
<rect x="65.4" y="635.7" width="4.2" height="2.2" fill="#000" />
<text x="65.6" y="619.1" font-family='"Liberation Sans", sans-serif' font-size="10.4" font-weight="normal" font-style="normal" text-anchor="end" fill="#222"  textLength="31.7" lengthAdjust="spacingAndGlyphs">20000</text>
<rect x="65.4" y="615.2" width="4.2" height="2.2" fill="#000" />
<text x="65.6" y="598.7" font-family='"Liberation Sans", sans-serif' font-size="10.4" font-weight="normal" font-style="normal" text-anchor="end" fill="#222"  textLength="31.7" lengthAdjust="spacingAndGlyphs">30000</text>
<rect x="65.4" y="594.8" width="4.2" height="2.2" fill="#000" />
<text x="65.6" y="578.2" font-family='"Liberation Sans", sans-serif' font-size="10.4" font-weight="normal" font-style="normal" text-anchor="end" fill="#222"  textLength="31.7" lengthAdjust="spacingAndGlyphs">40000</text>
<rect x="65.4" y="574.3" width="4.2" height="2.2" fill="#000" />
<text x="65.6" y="557.8" font-family='"Liberation Sans", sans-serif' font-size="10.4" font-weight="normal" font-style="normal" text-anchor="end" fill="#222"  textLength="31.7" lengthAdjust="spacingAndGlyphs">50000</text>
<rect x="65.4" y="553.9" width="4.2" height="2.2" fill="#000" />
<text x="65.6" y="537.4" font-family='"Liberation Sans", sans-serif' font-size="10.4" font-weight="normal" font-style="normal" text-anchor="end" fill="#222"  textLength="31.7" lengthAdjust="spacingAndGlyphs">60000</text>
<rect x="65.4" y="533.5" width="4.2" height="2.2" fill="#000" />
<text x="65.6" y="516.9" font-family='"Liberation Sans", sans-serif' font-size="10.4" font-weight="normal" font-style="normal" text-anchor="end" fill="#222"  textLength="31.7" lengthAdjust="spacingAndGlyphs">70000</text>
<rect x="65.4" y="513.0" width="4.2" height="2.2" fill="#000" />
<text x="65.6" y="496.5" font-family='"Liberation Sans", sans-serif' font-size="10.4" font-weight="normal" font-style="normal" text-anchor="end" fill="#222"  textLength="31.7" lengthAdjust="spacingAndGlyphs">80000</text>
<rect x="65.4" y="492.6" width="4.2" height="2.2" fill="#000" />
<text x="65.6" y="476.0" font-family='"Liberation Sans", sans-serif' font-size="10.4" font-weight="normal" font-style="normal" text-anchor="end" fill="#222"  textLength="31.7" lengthAdjust="spacingAndGlyphs">90000</text>
<rect x="65.4" y="472.1" width="4.2" height="2.2" fill="#000" />
<text x="65.6" y="455.6" font-family='"Liberation Sans", sans-serif' font-size="10.4" font-weight="normal" font-style="normal" text-anchor="end" fill="#222"  textLength="36.5" lengthAdjust="spacingAndGlyphs">100000</text>
<rect x="65.4" y="451.7" width="4.2" height="2.2" fill="#000" />
<rect x="76.7" y="643.1" width="26.79999999999999" height="13.399999999999954" fill="#5a5a5a" stroke="#000" stroke-width="1.1"/>
<rect x="88.45" y="636.4" width="3.1" height="6.800000000000068" fill="#000" />
<path d="M87 636.4 H93 L92 639.1 H88 Z" stroke="#000" stroke-width="0" fill="#000" />
<rect x="88.7" y="658.5" width="2.6" height="3" fill="#000" />
<rect x="107.6" y="640.4" width="26.79999999999999" height="16.1" fill="#5a5a5a" stroke="#000" stroke-width="1.1"/>
<rect x="119.45" y="633.4" width="3.1" height="7.100000000000023" fill="#000" />
<path d="M118 633.4 H124 L123 636.1 H119 Z" stroke="#000" stroke-width="0" fill="#000" />
<rect x="119.7" y="658.5" width="2.6" height="3" fill="#000" />
<rect x="146.10000000000002" y="525.4" width="26.799999999999976" height="131.1" fill="#5a5a5a" stroke="#000" stroke-width="1.1"/>
<rect x="158.04999999999998" y="472.3" width="3.1" height="53.19999999999999" fill="#000" />
<path d="M156.6 472.3 H162.6 L161.6 475.0 H157.6 Z" stroke="#000" stroke-width="0" fill="#000" />
<rect x="158.29999999999998" y="658.5" width="2.6" height="3" fill="#000" />
<rect x="177.3" y="535.6" width="26.4" height="120.89999999999995" fill="#5a5a5a" stroke="#000" stroke-width="1.1"/>
<rect x="188.95" y="487.6" width="3.1" height="48.10000000000002" fill="#000" />
<path d="M187.5 487.6 H193.5 L192.5 490.3 H188.5 Z" stroke="#000" stroke-width="0" fill="#000" />
<rect x="189.2" y="658.5" width="2.6" height="3" fill="#000" />
<rect x="215.9" y="534.1" width="26.499999999999993" height="122.39999999999995" fill="#5a5a5a" stroke="#000" stroke-width="1.1"/>
<rect x="227.85" y="484.7" width="3.1" height="49.50000000000006" fill="#000" />
<path d="M226.4 484.7 H232.4 L231.4 487.4 H227.4 Z" stroke="#000" stroke-width="0" fill="#000" />
<rect x="228.1" y="658.5" width="2.6" height="3" fill="#000" />
<rect x="247.0" y="596.4" width="26.70000000000001" height="60.1" fill="#5a5a5a" stroke="#000" stroke-width="1.1"/>
<rect x="258.75" y="564.5" width="3.1" height="32.0" fill="#000" />
<path d="M257.3 564.5 H263.3 L262.3 567.2 H258.3 Z" stroke="#000" stroke-width="0" fill="#000" />
<rect x="259.0" y="658.5" width="2.6" height="3" fill="#000" />
<text transform="translate(18.2 541.8) rotate(-90)" font-family='"Liberation Sans", sans-serif' font-size="10.4" font-weight="bold" stroke="#000" stroke-width="0.25" text-anchor="middle" textLength="167.6" lengthAdjust="spacingAndGlyphs"><tspan font-size="7.4" dy="-3.2">3</tspan><tspan dy="3.2">H-thymidine Incorporation (CPM)</tspan></text>
<text x="0.3" y="677.1" font-family='"Liberation Serif", serif' font-size="11.3" font-weight="bold" font-style="normal" text-anchor="start" fill="#000"  stroke="#000" stroke-width="0.25">Donor</text>
<text x="0.3" y="699" font-family='"Liberation Serif", serif' font-size="11.3" font-weight="bold" font-style="normal" text-anchor="start" fill="#000"  stroke="#000" stroke-width="0.25">CD4+</text>
<text x="0.3" y="719.2" font-family='"Liberation Serif", serif' font-size="11.3" font-weight="bold" font-style="normal" text-anchor="start" fill="#000"  stroke="#000" stroke-width="0.25">CD4+CD25<tspan font-size="6.9" dy="-3">hi</tspan></text>
<text x="80.8" y="677.8" font-family='"Liberation Serif", serif' font-size="11.3" font-weight="bold" font-style="normal" text-anchor="start" fill="#000"  stroke="#000" stroke-width="0.25">RA</text>
<text x="111" y="677.8" font-family='"Liberation Serif", serif' font-size="11.3" font-weight="bold" font-style="normal" text-anchor="start" fill="#000"  stroke="#000" stroke-width="0.25">RApost</text>
<text x="151.5" y="677.8" font-family='"Liberation Serif", serif' font-size="11.3" font-weight="bold" font-style="normal" text-anchor="start" fill="#000"  stroke="#000" stroke-width="0.25">RA</text>
<text x="181.8" y="677.8" font-family='"Liberation Serif", serif' font-size="11.3" font-weight="bold" font-style="normal" text-anchor="start" fill="#000"  stroke="#000" stroke-width="0.25">RApost</text>
<text x="221.5" y="677.8" font-family='"Liberation Serif", serif' font-size="11.3" font-weight="bold" font-style="normal" text-anchor="start" fill="#000"  stroke="#000" stroke-width="0.25">RA</text>
<text x="252" y="677.8" font-family='"Liberation Serif", serif' font-size="11.3" font-weight="bold" font-style="normal" text-anchor="start" fill="#000"  stroke="#000" stroke-width="0.25">RApost</text>
<text x="89.6" y="698.5" font-family='"Liberation Serif", serif' font-size="11" font-weight="bold" font-style="normal" text-anchor="middle" fill="#000" stroke="#000" stroke-width="0.2" stroke="#000" stroke-width="0.25">-</text>
<text x="124.6" y="698.5" font-family='"Liberation Serif", serif' font-size="11" font-weight="bold" font-style="normal" text-anchor="middle" fill="#000" stroke="#000" stroke-width="0.2" stroke="#000" stroke-width="0.25">-</text>
<text x="160.2" y="699.4" font-family='"Liberation Serif", serif' font-size="11.6" font-weight="bold" font-style="normal" text-anchor="middle" fill="#000" stroke="#000" stroke-width="0.2" stroke="#000" stroke-width="0.25">+</text>
<text x="194.2" y="699.4" font-family='"Liberation Serif", serif' font-size="11.6" font-weight="bold" font-style="normal" text-anchor="middle" fill="#000" stroke="#000" stroke-width="0.2" stroke="#000" stroke-width="0.25">+</text>
<text x="229.4" y="699.4" font-family='"Liberation Serif", serif' font-size="11.6" font-weight="bold" font-style="normal" text-anchor="middle" fill="#000" stroke="#000" stroke-width="0.2" stroke="#000" stroke-width="0.25">+</text>
<text x="260.3" y="696.9" font-family='"Liberation Serif", serif' font-size="11.6" font-weight="bold" font-style="normal" text-anchor="middle" fill="#000" stroke="#000" stroke-width="0.2" stroke="#000" stroke-width="0.25">+</text>
<text x="90" y="720.4" font-family='"Liberation Serif", serif' font-size="11.6" font-weight="bold" font-style="normal" text-anchor="middle" fill="#000" stroke="#000" stroke-width="0.2" stroke="#000" stroke-width="0.25">+</text>
<text x="124.6" y="720.4" font-family='"Liberation Serif", serif' font-size="11.6" font-weight="bold" font-style="normal" text-anchor="middle" fill="#000" stroke="#000" stroke-width="0.2" stroke="#000" stroke-width="0.25">+</text>
<text x="159.6" y="719.6" font-family='"Liberation Serif", serif' font-size="11" font-weight="bold" font-style="normal" text-anchor="middle" fill="#000" stroke="#000" stroke-width="0.2" stroke="#000" stroke-width="0.25">-</text>
<text x="194.2" y="719.6" font-family='"Liberation Serif", serif' font-size="11" font-weight="bold" font-style="normal" text-anchor="middle" fill="#000" stroke="#000" stroke-width="0.2" stroke="#000" stroke-width="0.25">-</text>
<text x="229.4" y="720.4" font-family='"Liberation Serif", serif' font-size="11.6" font-weight="bold" font-style="normal" text-anchor="middle" fill="#000" stroke="#000" stroke-width="0.2" stroke="#000" stroke-width="0.25">+</text>
<text x="260.3" y="720.4" font-family='"Liberation Serif", serif' font-size="11.6" font-weight="bold" font-style="normal" text-anchor="middle" fill="#000" stroke="#000" stroke-width="0.2" stroke="#000" stroke-width="0.25">+</text>
<rect x="332.4" y="451.3" width="3.3" height="207.2" fill="#000" />
<rect x="330.4" y="655.3" width="176.2" height="3.3" fill="#000" />
<text x="330.3" y="660.0" font-family='"Liberation Sans", sans-serif' font-size="10.6" font-weight="normal" font-style="normal" text-anchor="end" fill="#222"  textLength="6.1" lengthAdjust="spacingAndGlyphs">0</text>
<rect x="329.8" y="655.5" width="3.2" height="2.2" fill="#000" />
<rect x="331.3" y="641.4" width="2" height="1.2" fill="#000" />
<text x="330.3" y="630.8" font-family='"Liberation Sans", sans-serif' font-size="10.6" font-weight="normal" font-style="normal" text-anchor="end" fill="#222"  textLength="12.3" lengthAdjust="spacingAndGlyphs">10</text>
<rect x="329.8" y="626.3" width="3.2" height="2.2" fill="#000" />
<rect x="331.3" y="612.2" width="2" height="1.2" fill="#000" />
<text x="330.3" y="601.6" font-family='"Liberation Sans", sans-serif' font-size="10.6" font-weight="normal" font-style="normal" text-anchor="end" fill="#222"  textLength="12.3" lengthAdjust="spacingAndGlyphs">20</text>
<rect x="329.8" y="597.1" width="3.2" height="2.2" fill="#000" />
<rect x="331.3" y="583.0" width="2" height="1.2" fill="#000" />
<text x="330.3" y="572.4" font-family='"Liberation Sans", sans-serif' font-size="10.6" font-weight="normal" font-style="normal" text-anchor="end" fill="#222"  textLength="12.3" lengthAdjust="spacingAndGlyphs">30</text>
<rect x="329.8" y="567.9" width="3.2" height="2.2" fill="#000" />
<rect x="331.3" y="553.8" width="2" height="1.2" fill="#000" />
<text x="330.3" y="543.2" font-family='"Liberation Sans", sans-serif' font-size="10.6" font-weight="normal" font-style="normal" text-anchor="end" fill="#222"  textLength="12.3" lengthAdjust="spacingAndGlyphs">40</text>
<rect x="329.8" y="538.7" width="3.2" height="2.2" fill="#000" />
<rect x="331.3" y="524.6" width="2" height="1.2" fill="#000" />
<text x="330.3" y="514.0" font-family='"Liberation Sans", sans-serif' font-size="10.6" font-weight="normal" font-style="normal" text-anchor="end" fill="#222"  textLength="12.3" lengthAdjust="spacingAndGlyphs">50</text>
<rect x="329.8" y="509.5" width="3.2" height="2.2" fill="#000" />
<rect x="331.3" y="495.4" width="2" height="1.2" fill="#000" />
<text x="330.3" y="484.8" font-family='"Liberation Sans", sans-serif' font-size="10.6" font-weight="normal" font-style="normal" text-anchor="end" fill="#222"  textLength="12.3" lengthAdjust="spacingAndGlyphs">60</text>
<rect x="329.8" y="480.3" width="3.2" height="2.2" fill="#000" />
<rect x="331.3" y="466.2" width="2" height="1.2" fill="#000" />
<text x="330.3" y="455.6" font-family='"Liberation Sans", sans-serif' font-size="10.6" font-weight="normal" font-style="normal" text-anchor="end" fill="#222"  textLength="12.3" lengthAdjust="spacingAndGlyphs">70</text>
<rect x="329.8" y="451.1" width="3.2" height="2.2" fill="#000" />
<rect x="350.0" y="627.8" width="65.30000000000001" height="28.200000000000045" fill="#5a5a5a" stroke="#000" stroke-width="1"/>
<rect x="380.7" y="592.5" width="3.2" height="35.299999999999955" fill="#000" />
<rect x="379.90000000000003" y="592.5" width="4.8" height="2.6" fill="#000" />
<rect x="381.0" y="658" width="2.6" height="3" fill="#000" />
<rect x="424.8" y="497.1" width="65.39999999999998" height="158.89999999999998" fill="#5a5a5a" stroke="#000" stroke-width="1"/>
<rect x="456.09999999999997" y="474.8" width="3.2" height="22.30000000000001" fill="#000" />
<rect x="455.3" y="474.8" width="4.8" height="2.6" fill="#000" />
<rect x="456.4" y="658" width="2.6" height="3" fill="#000" />
<text transform="translate(311.5 562) rotate(-90)" font-family='"Liberation Sans", sans-serif' font-size="10.5" font-weight="bold" stroke="#000" stroke-width="0.25" text-anchor="middle">%suppression</text>
<text x="380.5" y="680" font-family='"Liberation Serif", serif' font-size="11.3" font-weight="bold" font-style="normal" text-anchor="start" fill="#000"  stroke="#000" stroke-width="0.25">RApre</text>
<text x="445.7" y="680" font-family='"Liberation Serif", serif' font-size="11.3" font-weight="bold" font-style="normal" text-anchor="start" fill="#000"  stroke="#000" stroke-width="0.25">RApost</text>
<path d="M379.6 427.4 V410 H456.5 V427.4" stroke="#000" stroke-width="3.3" fill="none" />
<text x="420" y="430.8" font-family='"Liberation Serif", serif' font-size="13" font-weight="bold" font-style="normal" text-anchor="middle" fill="#000"  stroke="#000" stroke-width="0.25"><tspan font-style="italic">P</tspan>&lt;.025</text>
</svg>
</body></html>
